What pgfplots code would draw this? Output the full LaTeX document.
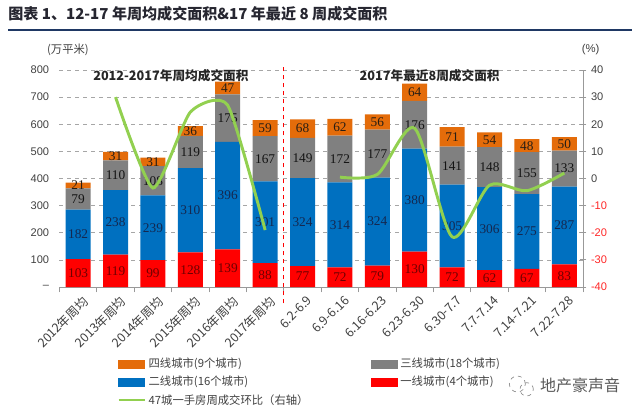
\documentclass[border=0pt]{standalone}
\usepackage{pgfplots}
\usepackage{pgfplotstable}
\pgfplotsset{compat=1.18}
\usepackage{fontspec}
\setmainfont{Liberation Sans}
\newfontfamily\cjk{Noto Sans CJK SC}
\newfontfamily\lserif{Liberation Serif}
\definecolor{cOrange}{RGB}{228,108,10}
\definecolor{cGray}{RGB}{128,128,128}
\definecolor{cBlue}{RGB}{0,112,192}
\definecolor{cRed}{RGB}{255,0,0}
\definecolor{cGreen}{RGB}{146,208,80}
\definecolor{cTitle}{RGB}{38,38,48}
\definecolor{cRule}{RGB}{31,56,100}
\definecolor{cTxt}{RGB}{64,64,64}
\definecolor{lRed}{RGB}{110,0,0}
\definecolor{lBlue}{RGB}{20,40,80}
\definecolor{lGray}{RGB}{20,20,20}
\definecolor{lOrange}{RGB}{40,30,20}

\pgfplotstableread{
x red blue gray orange
0 103 182 79 21
1 119 238 110 31
2 99 239 108 31
3 128 310 119 36
4 139 396 175 47
5 88 301 167 59
6 77 324 149 68
7 72 314 172 62
8 79 324 177 56
9 130 380 176 64
10 72 305 141 71
11 62 306 148 54
12 67 275 155 48
13 83 287 133 50
}\bardata
% label positions: middle of each stacked segment
\pgfplotstablecreatecol[create col/expr={\thisrow{red}/2}]{mred}{\bardata}
\pgfplotstablecreatecol[create col/expr={\thisrow{red}+\thisrow{blue}/2}]{mblue}{\bardata}
\pgfplotstablecreatecol[create col/expr={\thisrow{red}+\thisrow{blue}+\thisrow{gray}/2}]{mgray}{\bardata}
\pgfplotstablecreatecol[create col/expr={\thisrow{red}+\thisrow{blue}+\thisrow{gray}+\thisrow{orange}/2}]{morange}{\bardata}

\begin{document}
\begin{tikzpicture}[x=1pt,y=1pt]
\path[use as bounding box] (0,0) rectangle (480,309);
\node[anchor=west, inner sep=0pt, font=\cjk\bfseries\fontsize{11.3}{13}\selectfont, text=cTitle] at (6,298.5) {图表 1、12-17 年周均成交面积\&17 年最近 8 周成交面积};
\draw[cRule, line width=1pt] (6,286.5) -- (474,286.5);
\node[font=\cjk\fontsize{8.5}{10}\selectfont, text=cTxt] at (51,271.5) {(万平米)};
\node[font=\fontsize{8.5}{10}\selectfont, text=cTxt] at (443,271.5) {(\%)};

\begin{axis}[
  at={(44.6pt,93.75pt)}, anchor=south west,
  scale only axis, width=392.65pt, height=162.75pt,
  ybar stacked, bar width=18.75pt,
  xmin=-0.5, xmax=13.5, ymin=0, ymax=800,
  clip=false,
  axis x line*=bottom, axis y line*=left,
  y axis line style={draw=none},
  x axis line style={draw=gray!80, line width=0.6pt, -},
  ytick={0,100,...,800},
  yticklabels={--,100,200,300,400,500,600,700,800},
  yticklabel style={font=\fontsize{8.3}{9}\selectfont, text=cTxt},
  ymajorgrids, grid style={dashed, gray!70, line width=0.5pt},
  major y tick style={draw=none},
  xtick={0,...,13},
  xticklabels={2012年周均,2013年周均,2014年周均,2015年周均,2016年周均,2017年周均,6.2-6.9,6.9-6.16,6.16-6.23,6.23-6.30,6.30-7.7,7.7-7.14,7.14-7.21,7.22-7.28},
  xticklabel style={rotate=45, anchor=north east, font=\cjk\fontsize{9.4}{10}\selectfont, text=cTxt, inner sep=1pt, yshift=-2pt, xshift=2pt},
  major x tick style={draw=none},
  minor xtick={-0.5,0.5,...,13.5},
  minor x tick style={draw=gray!80, line width=0.6pt},
  tick align=outside, minor tick length=4pt,
  legend columns=2,
  legend style={at={(0.1099,-0.315)}, anchor=north west, draw=none, fill=none, inner sep=0pt,
     font=\cjk\fontsize{8.5}{10}\selectfont, text=cTxt, row sep=0.8pt,
     /tikz/every even column/.append style={column sep=45pt}},
  legend cell align=left,
]
\addlegendimage{legend image code/.code={\fill[cOrange] (0pt,-3pt) rectangle (19.5pt,3pt);}}
\addlegendimage{legend image code/.code={\fill[cGray] (0pt,-3pt) rectangle (19.5pt,3pt);}}
\addlegendimage{legend image code/.code={\fill[cBlue] (0pt,-3pt) rectangle (19.5pt,3pt);}}
\addlegendimage{legend image code/.code={\fill[cRed] (0pt,-3pt) rectangle (19.5pt,3pt);}}
\addlegendimage{legend image code/.code={\draw[cGreen, line width=2pt] (0pt,0pt) -- (19.5pt,0pt);}}
\addplot[fill=cRed, draw=none] table[x=x, y=red] {\bardata};
\addplot[fill=cBlue, draw=none] table[x=x, y=blue] {\bardata};
\addplot[fill=cGray, draw=none] table[x=x, y=gray] {\bardata};
\addplot[fill=cOrange, draw=none] table[x=x, y=orange] {\bardata};
\legend{四线城市(9个城市),三线城市(18个城市),二线城市(16个城市),一线城市(4个城市),47城一手房周成交环比（右轴）}
\draw[red, dashed, line width=0.6pt] (axis cs:5.5,-60) -- (axis cs:5.5,815);
\node[font=\cjk\bfseries\fontsize{9.5}{11}\selectfont, text=black!85] at (axis cs:2.48,780) {2012-2017年周均成交面积};
\node[font=\cjk\bfseries\fontsize{9.5}{11}\selectfont, text=black!85] at (axis cs:9.4,780) {2017年最近8周成交面积};
\end{axis}

% segment value labels
\begin{axis}[
  at={(44.6pt,93.75pt)}, anchor=south west,
  scale only axis, width=392.65pt, height=162.75pt,
  xmin=-0.5, xmax=13.5, ymin=0, ymax=800,
  axis lines=none, clip=false,
  point meta=explicit,
  nodes near coords={\pgfmathprintnumber[assume math mode=true]{\pgfplotspointmeta}},
  every node near coord/.append style={anchor=center, font=\lserif\fontsize{10}{11}\selectfont, inner sep=0pt},
]
\addplot[draw=none, mark=none, every node near coord/.append style={text=lRed}] table[x=x, y=mred, meta=red] {\bardata};
\addplot[draw=none, mark=none, every node near coord/.append style={text=lBlue}] table[x=x, y=mblue, meta=blue] {\bardata};
\addplot[draw=none, mark=none, every node near coord/.append style={text=lGray}] table[x=x, y=mgray, meta=gray] {\bardata};
\addplot[draw=none, mark=none, every node near coord/.append style={text=lOrange}] table[x=x, y=morange, meta=orange] {\bardata};
\end{axis}

\begin{axis}[
  at={(44.6pt,93.75pt)}, anchor=south west,
  scale only axis, width=392.65pt, height=162.75pt,
  xmin=-0.5, xmax=13.5, ymin=-40, ymax=40,
  axis y line*=right, axis x line=none,
  y axis line style={draw=gray!80, line width=0.6pt, -},
  ytick={-40,-30,...,40},
  yticklabels={\textcolor{red!85}{-40},\textcolor{red!85}{-30},\textcolor{red!85}{-20},\textcolor{red!85}{-10},0,10,20,30,40},
  yticklabel style={font=\fontsize{8.3}{9}\selectfont, text=cTxt},
  major y tick style={draw=gray!80, line width=0.6pt},
  tick align=center, major tick length=5pt,
]
\addplot[cGreen, line width=2.2pt, smooth, tension=0.35] coordinates {(1,30) (2,-3.5) (3,24.5) (4,27) (5,-19)};
\addplot[cGreen, line width=2.2pt, smooth, tension=0.45] coordinates {(7,0.5) (8,1.5) (9,18.5) (10,-21.5) (11,-2.5) (12,-4.5) (13,2)};
\end{axis}

\node[font=\cjk\fontsize{12}{14}\selectfont, text=black!65] at (435,20.25) {地产豪声音};
\draw[black!45, dashed, line width=0.5pt] (388,21) circle (6pt);
\draw[black!45, dashed, line width=0.5pt] (395,17) circle (5pt);
\end{tikzpicture}
\end{document}
